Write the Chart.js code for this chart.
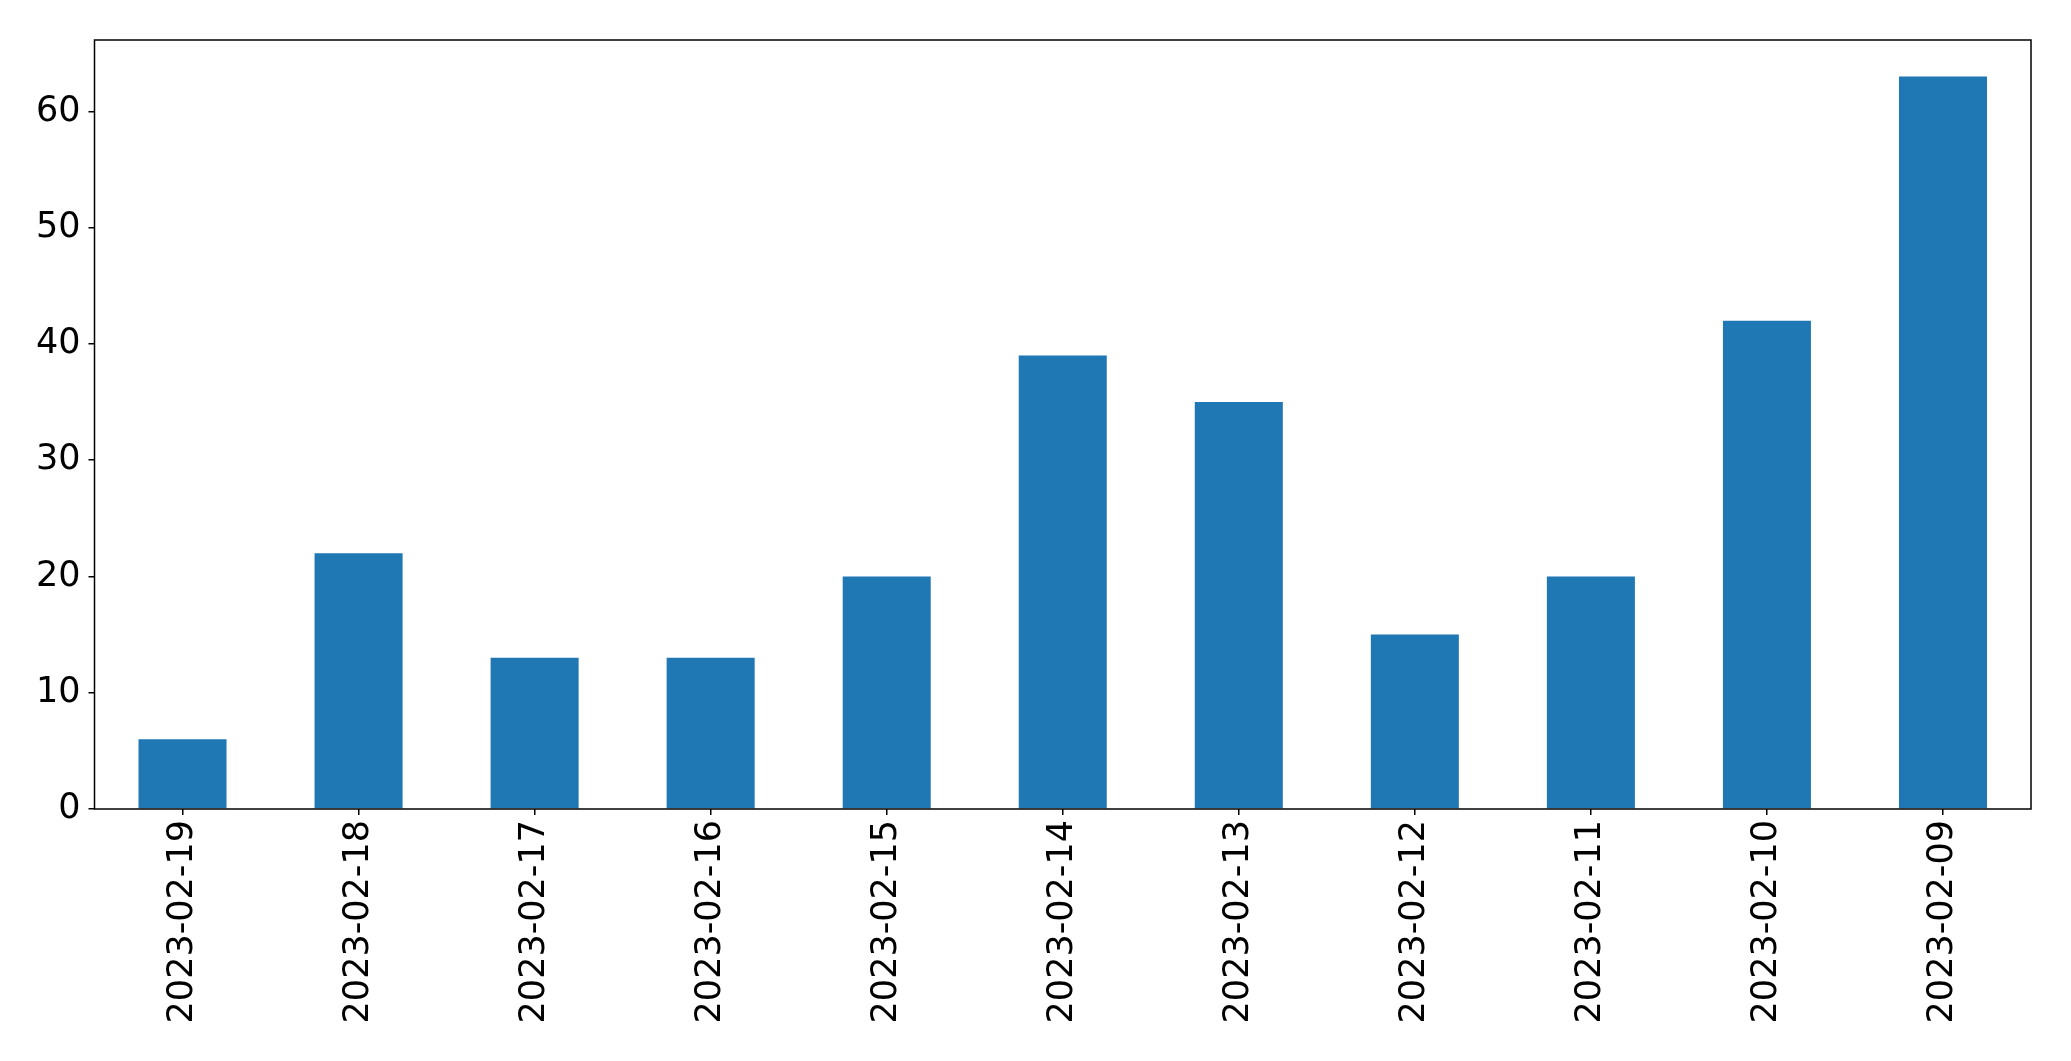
<!DOCTYPE html>
<html>
<head>
<meta charset="utf-8">
<script src="https://cdn.jsdelivr.net/npm/chart.js@4"></script>
<style>
  html, body { margin: 0; padding: 0; background: #fff; }
  #wrap { width: 2071px; height: 1061px; }
</style>
</head>
<body>
<div id="wrap"><canvas id="myBarChart" width="2071" height="1061"></canvas></div>
<script>
const dates = ['2023-02-19','2023-02-18','2023-02-17','2023-02-16','2023-02-15','2023-02-14',
               '2023-02-13','2023-02-12','2023-02-11','2023-02-10','2023-02-09'];
const counts = [6, 22, 13, 13, 20, 39, 35, 15, 20, 42, 63];
const yTicks = [0, 10, 20, 30, 40, 50, 60];

// box round the plot area (matplotlib style frame)
const frame = {
  id: 'frame',
  afterDraw(chart) {
    const a = chart.chartArea, ctx = chart.ctx;
    ctx.save();
    ctx.strokeStyle = '#000';
    ctx.lineWidth = 1.5;
    ctx.strokeRect(a.left, a.top, a.right - a.left, a.bottom - a.top);
    ctx.restore();
  }
};

const font = { family: 'DejaVu Sans', size: 35 };

const data = {
  labels: dates,
  datasets: [{
    data: counts,
    backgroundColor: '#1f77b4',
    borderWidth: 0,
    barPercentage: 0.5,
    categoryPercentage: 1.0
  }]
};

const config = {
  type: 'bar',
  data,
  plugins: [frame],
  options: {
    responsive: false,
    animation: false,
    layout: { padding: { top: 40, right: 40, left: 0, bottom: 0 } },
    plugins: { legend: { display: false }, tooltip: { enabled: false } },
    scales: {
      x: {
        offset: true,
        grid: { display: true, drawOnChartArea: false, drawTicks: true, tickLength: 6, color: '#000', offset: false, lineWidth: 1.5 },
        border: { display: false },
        ticks: { color: '#000', font, minRotation: 90, maxRotation: 90, autoSkip: false, padding: 5 },
        afterFit(s) { s.height = 252; }
      },
      y: {
        min: 0,
        max: 66.15,
        afterBuildTicks(s) { s.ticks = yTicks.map(v => ({ value: v })); },
        grid: { display: true, drawOnChartArea: false, drawTicks: true, tickLength: 6, color: '#000', lineWidth: 1.5 },
        border: { display: false },
        ticks: { color: '#000', font, padding: 8 },
        afterFit(s) { s.width = 94.5; }
      }
    }
  }
};

const myBarChart = new Chart(document.getElementById('myBarChart'), config);
</script>
</body>
</html>
